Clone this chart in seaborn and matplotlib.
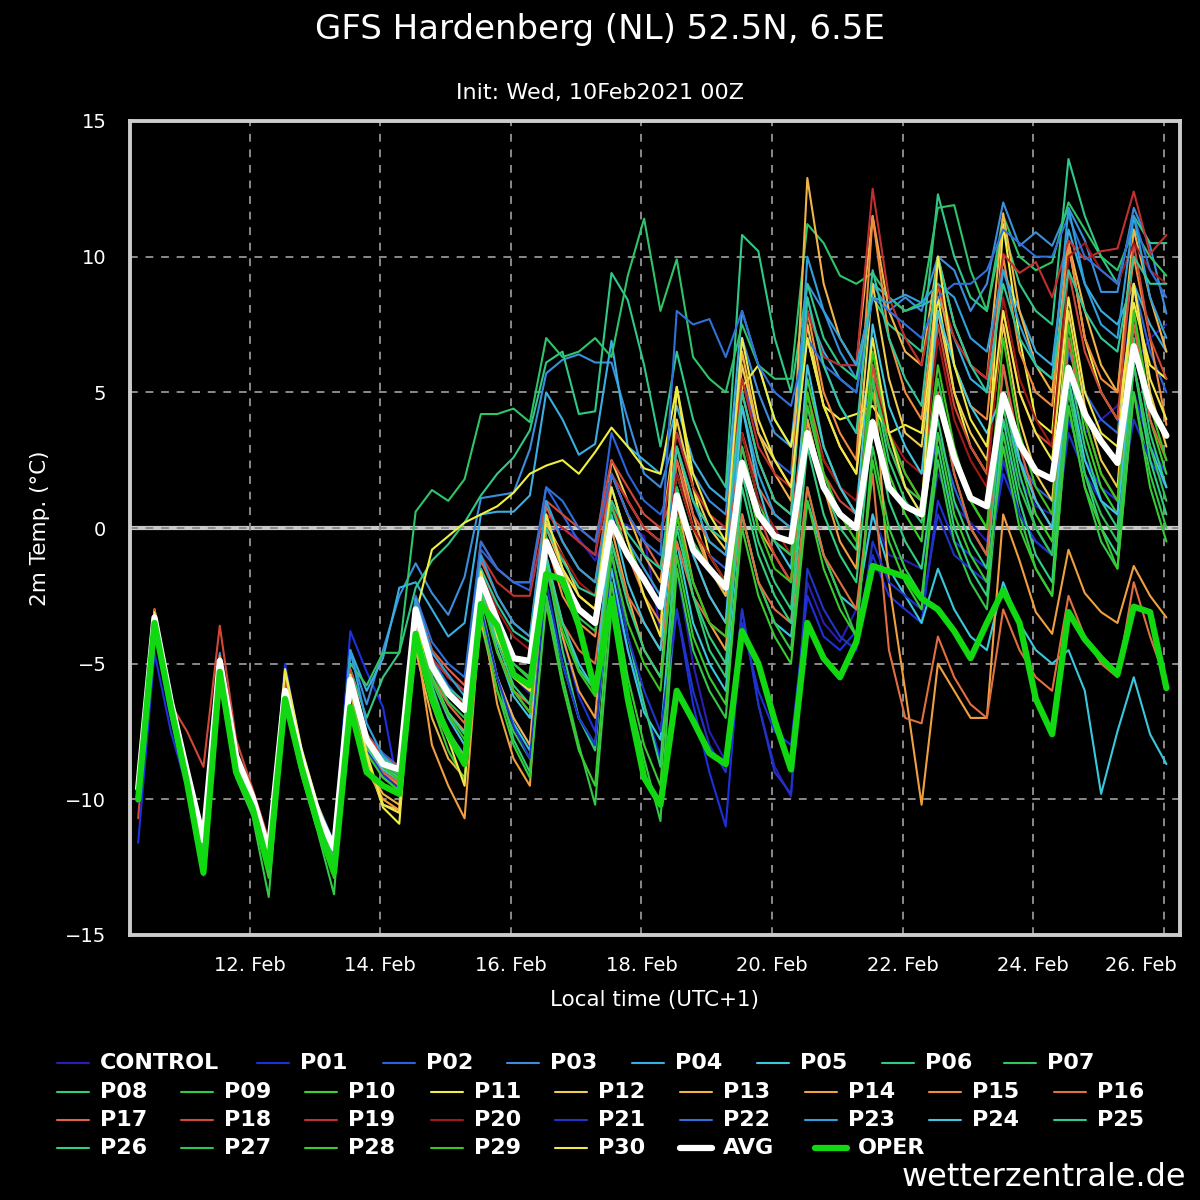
import pandas as pd
import matplotlib
matplotlib.use("Agg")
import matplotlib.pyplot as plt
import matplotlib.dates as mdates
import matplotlib.transforms as mtransforms
from matplotlib.lines import Line2D
import seaborn as sns

# GFS ensemble, 2m temperature (C), Hardenberg (NL), init 10 Feb 2021 00Z
# 6-hourly steps in local time (UTC+1): 10 Feb 07:00 ... 26 Feb 01:00
times = pd.date_range("2021-02-10 07:00", periods=64, freq="6h")

control = [-10.0,-3.6,-6.8,-9.3,-12.0,-5.2,-8.8,-10.2,-12.4,-6.2,-8.8,-10.8,-12.3,-5.7,-8.0,-8.8,-9.2, -3.3,-5.6,-6.9,-7.6, -2.2,-4.0,-5.5,-6.1, -0.2,0.0,-0.4,-1.2, 0.3,0.1,-0.3,-3.8, -1.5,-5.0,-7.5,-8.6, -3.0,-6.5,-8.8,-9.9, -2.0,-3.5,-4.2,-3.0, 0.5,-1.0,-1.2,-1.5, 2.0,0.8,0.2,-0.5, 3.0,1.8,0.8,0.5, 5.0,3.5,4.0,4.5, 6.0,7.0,7.5]
p01 = [-11.6,-4.6,-7.5,-9.6,-12.2,-5.0,-8.2,-9.8,-12.0,-5.0,-8.3,-10.4,-11.8,-3.8,-5.3,-6.6,-9.8, -3.5,-6.0,-7.8,-8.8, -3.0,-5.5,-7.0,-8.0, -1.5,-4.0,-6.2,-7.5, -2.0,-4.5,-6.5,-8.5, -3.0,-6.5,-9.0,-11.0, -3.5,-6.0,-7.5,-8.0, -2.5,-4.0,-4.5,-3.8, -1.0,-2.5,-3.0,-3.5, 1.0,-0.5,-1.0,-1.5, 2.0,0.5,-0.5,-1.0, 4.0,2.5,1.5,1.0, 5.0,3.0,2.0]
p02 = [-9.6,-3.5,-6.5,-9.0,-11.6,-4.9,-8.5,-9.8,-12.0,-5.8,-8.4,-10.3,-11.8,-5.3,-7.6,-8.3,-8.8, -2.6,-4.8,-5.8,-6.5, -0.8,-1.5,-2.0,-2.3, 1.5,0.5,-0.5,-1.0, 3.5,2.0,1.0,0.5, 2.0,0.0,-1.0,-1.5, 5.5,3.5,2.5,2.0, 8.5,6.0,4.5,3.5, 6.0,3.5,1.5,0.5, 3.5,1.5,0.0,-1.0, 4.0,2.5,1.5,1.0, 6.5,5.0,4.0,3.5, 9.0,6.5,5.0]
p03 = [-9.5,-3.2,-6.4,-8.8,-11.4,-4.6,-8.3,-9.7,-11.8,-5.6,-8.2,-10.2,-11.6,-4.6,-6.5,-4.5,-2.5, -1.3,-2.4,-3.2,-1.8, 1.1,1.2,1.3,2.9, 5.7,6.2,6.4,6.1, 6.1,4.0,2.0,1.5, 3.5,2.0,1.0,0.5, 7.0,5.0,3.5,3.0, 9.0,8.0,6.5,5.5, 9.0,8.0,8.5,8.0, 10.0,9.5,8.0,9.0, 12.0,10.4,10.9,10.4, 11.8,10.6,8.7,8.7, 11.8,10.4,7.9]
p04 = [-9.7,-3.4,-6.7,-9.2,-12.0,-5.1,-8.7,-10.1,-12.3,-6.1,-8.7,-10.7,-12.1,-4.5,-6.0,-4.8,-2.2, -2.0,-3.0,-4.0,-3.5, 0.5,0.6,0.6,1.2, 5.0,4.0,2.7,3.1, 6.9,3.0,2.5,2.0, 4.5,2.5,1.5,1.0, 8.0,6.0,4.0,3.0, 8.0,6.5,5.5,5.0, 9.0,8.5,8.0,8.2, 8.5,7.0,5.5,5.0, 9.5,8.0,6.5,6.0, 11.0,9.0,8.0,7.5, 9.0,7.5,6.5]
p05 = [-9.9,-3.6,-6.8,-9.3,-12.2,-5.3,-8.9,-10.3,-12.5,-6.3,-8.9,-10.9,-12.4,-5.8,-8.3,-9.0,-9.4, -3.5,-6.0,-7.5,-8.4, -3.0,-5.5,-7.2,-8.2, -2.5,-5.0,-7.0,-8.0, -1.5,-4.5,-6.8,-7.8, -0.5,-3.5,-5.0,-6.0, 0.5,-2.0,-3.5,-4.0, 1.0,-1.0,-2.5,-3.0, 0.5,-1.5,-2.5,-3.5, -1.5,-3.0,-4.0,-4.5, -2.0,-3.5,-4.5,-5.0, -4.5,-6.0,-9.8,-7.5, -5.5,-7.6,-8.7]
p06 = [-9.6,-3.3,-6.5,-9.0,-11.7,-4.9,-8.5,-9.9,-12.1,-5.9,-8.5,-10.5,-11.9,-5.2,-7.0,-5.5,-4.6, -2.2,-1.2,-0.6,0.2, 1.2,2.0,2.6,3.6, 6.1,6.5,4.2,4.3, 9.4,8.4,6.0,3.0, 6.5,4.0,2.5,1.5, 10.8,10.2,7.0,5.0, 9.0,7.0,6.0,5.5, 8.5,7.5,7.0,6.5, 12.3,10.0,8.5,8.0, 11.0,9.0,8.0,7.5, 13.6,11.5,10.0,9.0, 11.5,10.5,10.5]
p07 = [-9.9,-3.5,-6.7,-9.2,-12.0,-5.1,-8.7,-10.1,-12.3,-6.0,-8.6,-10.6,-12.2,-5.0,-5.8,-4.6,-4.6, 0.6,1.4,1.0,1.8, 4.2,4.2,4.4,3.9, 7.0,6.3,6.5,7.0, 6.3,9.3,11.4,8.0, 9.9,6.3,5.5,5.0, 7.5,6.0,5.5,5.5, 11.2,10.5,9.3,9.0, 9.4,8.5,8.0,8.3, 11.8,11.9,9.5,8.0, 11.5,10.0,9.5,9.8, 12.0,11.0,10.0,9.5, 11.0,10.0,9.3]
p08 = [-9.8,-3.4,-6.6,-9.2,-12.3,-5.0,-8.7,-10.2,-12.8,-6.1,-8.8,-10.9,-12.6,-5.4,-7.8,-8.5,-9.0, -3.3,-5.8,-7.6,-8.6, -2.8,-5.5,-7.8,-9.0, -1.2,-4.5,-7.0,-8.2, -0.8,-4.0,-6.5,-8.8, 0.5,-2.5,-4.5,-5.5, 2.0,-0.5,-2.0,-3.0, 4.0,1.5,0.0,-0.8, 5.5,2.5,1.0,0.2, 4.0,1.0,-0.5,-1.5, 5.0,2.0,0.0,-1.0, 6.0,3.0,1.0,0.0, 7.0,3.5,1.5]
p09 = [-10.1,-3.5,-6.9,-9.6,-12.8,-5.4,-9.2,-10.6,-13.6,-6.4,-9.1,-11.2,-13.5,-5.6,-8.2,-9.2,-9.6, -3.6,-6.2,-7.5,-8.5, -3.5,-6.0,-7.5,-8.5, -2.5,-5.5,-8.0,-10.2, -3.0,-6.0,-8.5,-10.8, -1.5,-4.5,-6.0,-7.0, 0.5,-2.0,-3.5,-4.5, 1.5,-1.0,-2.5,-4.0, 3.0,0.0,-1.5,-2.5, 2.5,-0.5,-2.0,-3.0, 3.5,0.5,-1.5,-2.5, 4.5,1.5,-0.5,-1.5, 5.0,2.0,0.0]
p10 = [-9.7,-3.3,-6.5,-9.0,-11.9,-5.0,-8.6,-10.0,-12.4,-6.1,-8.6,-10.6,-12.2,-5.3,-7.7,-8.4,-8.9, -2.8,-5.0,-6.0,-6.8, -1.5,-3.5,-5.0,-5.5, 0.5,-1.5,-3.0,-3.5, 1.5,-0.5,-2.0,-3.0, 2.0,0.0,-1.5,-2.5, 3.5,1.0,-0.5,-1.0, 5.5,3.0,1.5,0.5, 5.0,2.0,0.5,-0.5, 5.0,2.0,0.0,-1.0, 6.0,2.5,0.5,-0.5, 7.0,3.5,1.5,0.5, 8.0,4.0,2.0]
p11 = [-9.7,-3.0,-6.3,-8.8,-11.5,-4.9,-8.5,-10.0,-12.0,-5.2,-8.1,-10.2,-11.8,-5.6,-8.5,-10.3,-10.9, -3.2,-0.8,-0.3,0.2, 0.5,0.8,1.3,2.0, 2.3,2.5,2.0,2.8, 3.7,3.0,2.2,2.0, 5.2,1.5,-1.0,-2.0, 5.2,6.0,4.0,3.0, 7.0,4.5,4.0,4.2, 4.5,3.5,3.8,3.5, 8.5,5.0,3.0,2.0, 11.2,7.0,4.0,3.5, 10.5,7.0,5.0,4.0, 8.3,6.0,5.5]
p12 = [-9.8,-3.1,-6.5,-9.0,-11.7,-4.8,-8.6,-10.1,-12.2,-5.7,-8.5,-10.5,-12.0,-5.7,-8.6,-10.2,-10.4, -3.6,-6.5,-7.8,-8.4, -2.4,-4.5,-6.0,-6.8, 0.2,-1.0,-2.5,-3.0, 2.5,1.0,0.0,-0.5, 4.0,1.5,0.0,-0.8, 6.0,3.5,2.5,1.5, 7.5,4.5,3.0,2.0, 9.0,5.5,3.5,3.0, 8.0,5.0,3.5,2.5, 7.5,4.0,2.0,1.0, 8.0,4.5,2.5,1.5, 9.0,5.0,3.0]
p13 = [-9.9,-3.2,-6.6,-9.1,-11.9,-5.0,-8.6,-10.1,-12.3,-6.0,-8.7,-10.8,-12.4,-5.9,-8.8,-9.8,-10.2, -4.5,-7.0,-8.5,-9.2, -3.5,-5.5,-7.0,-8.0, 0.0,-1.5,-3.0,-3.5, 2.0,0.5,-1.0,-2.0, 3.0,0.5,-1.5,-2.5, 6.5,3.5,2.0,1.0, 12.9,9.0,7.0,6.0, 11.5,8.0,6.5,6.0, 10.0,7.5,6.0,5.5, 11.6,8.0,6.0,5.0, 10.5,8.0,6.0,5.0, 11.0,8.5,6.5]
p14 = [-10.0,-3.3,-6.8,-9.4,-12.2,-5.2,-8.9,-10.4,-12.6,-6.3,-9.0,-11.0,-12.6,-6.0,-8.9,-10.0,-10.4, -4.0,-8.0,-9.5,-10.7, -3.0,-6.5,-8.5,-9.5, -1.0,-4.0,-6.0,-7.0, 0.0,-2.5,-4.5,-5.5, 1.0,-2.0,-3.5,-4.5, 2.5,0.0,-1.0,-2.0, 4.0,1.5,-0.5,-1.5, 6.0,-2.0,-6.0,-10.2, -5.0,-6.0,-7.0,-7.0, 0.5,-1.2,-3.1,-3.9, -0.8,-2.4,-3.1,-3.5, -1.4,-2.5,-3.3]
p15 = [-9.6,-3.0,-6.4,-8.9,-11.6,-4.7,-8.4,-9.9,-12.0,-5.9,-8.4,-10.4,-11.9,-5.4,-7.9,-9.0,-9.5, -3.0,-5.5,-6.8,-7.5, -2.0,-4.0,-5.5,-6.0, -0.5,-2.5,-3.5,-4.0, 1.0,-1.0,-2.5,-3.5, 2.5,0.0,-1.5,-2.0, 5.0,2.5,1.0,0.5, 8.0,5.0,3.5,2.5, 11.5,7.0,5.0,4.0, 9.0,6.0,4.5,4.0, 10.0,6.5,5.0,4.5, 10.5,7.0,5.5,5.0, 10.0,7.0,3.8]
p16 = [-9.8,-3.2,-6.6,-9.2,-12.0,-5.0,-8.8,-10.3,-12.4,-6.1,-8.8,-10.8,-12.3,-5.6,-8.1,-8.8,-9.3, -3.4,-5.5,-6.5,-7.2, -2.5,-4.5,-6.0,-6.5, -1.5,-3.5,-4.5,-5.0, -0.5,-2.5,-3.5,-4.5, -0.5,-2.5,-3.5,-4.0, 0.5,-2.0,-3.0,-3.5, 1.5,-1.0,-2.0,-3.0, 2.0,-4.5,-7.0,-7.2, -4.0,-5.5,-6.5,-7.0, -3.0,-4.5,-5.5,-6.0, -2.5,-4.0,-5.0,-5.5, -2.0,-4.0,-5.7]
p17 = [-10.0,-3.4,-6.8,-9.3,-12.1,-5.2,-8.8,-10.3,-12.5,-6.2,-8.9,-10.9,-12.5,-5.8,-8.2,-9.0,-9.4, -2.8,-4.5,-5.2,-5.8, -1.2,-2.5,-3.5,-4.0, 0.8,-0.5,-1.5,-2.0, 2.0,0.5,-0.5,-1.5, 2.5,0.5,-0.5,-1.0, 3.5,1.5,0.5,0.0, 5.0,2.5,1.5,0.5, 6.0,3.5,2.0,1.0, 5.0,2.0,0.0,-1.0, 6.0,3.0,1.0,0.0, 7.0,4.0,2.0,1.0, 7.5,4.0,2.5]
p18 = [-10.7,-3.0,-6.5,-7.5,-8.8,-3.6,-7.8,-9.6,-11.5,-5.6,-8.3,-10.3,-11.7,-5.2,-7.6,-8.4,-8.8, -2.5,-4.5,-5.5,-6.0, -0.5,-1.5,-2.0,-2.0, 1.0,0.5,0.0,-0.5, 2.5,1.5,0.5,0.0, 1.5,-1.0,-2.5,-3.5, 3.0,0.5,-1.0,-2.0, 4.5,2.0,1.0,0.5, 6.0,3.0,1.5,1.0, 7.5,4.5,3.0,2.0, 8.0,5.0,3.5,3.0, 9.5,6.5,5.0,4.0, 10.5,7.0,5.5]
p19 = [-9.9,-3.3,-6.7,-9.2,-12.0,-5.1,-8.7,-10.2,-12.3,-6.1,-8.7,-10.7,-12.2,-5.6,-8.0,-8.7,-9.1, -3.0,-4.8,-5.5,-6.0, -1.0,-2.0,-2.5,-2.5, 0.5,0.0,-0.5,-1.0, 2.0,1.0,0.0,-0.5, 3.5,1.5,0.5,0.0, 5.5,3.0,2.0,1.5, 8.0,6.3,6.0,6.0, 12.5,8.5,7.0,6.0, 9.0,7.0,6.0,5.5, 10.1,9.4,9.8,8.5, 10.6,9.9,10.2,10.3, 12.4,10.1,10.8]
p20 = [-9.8,-3.3,-6.6,-9.1,-11.8,-4.9,-8.6,-10.0,-12.2,-6.0,-8.6,-10.6,-12.0,-5.5,-7.9,-8.6,-9.0, -3.1,-5.2,-6.0,-6.5, -1.5,-3.0,-4.0,-4.5, 0.0,-1.0,-2.0,-2.5, 1.0,-0.5,-1.5,-2.5, 2.0,0.0,-1.0,-2.0, 3.5,1.0,0.0,-1.0, 4.5,2.5,1.5,1.0, 5.5,3.5,2.5,2.0, 7.0,4.0,2.5,1.5, 8.5,5.5,4.0,3.0, 10.0,10.5,9.5,9.0, 10.5,9.5,9.0]
p21 = [-10.1,-3.7,-7.0,-9.5,-12.3,-5.3,-8.9,-10.4,-12.6,-6.3,-9.0,-11.0,-12.6,-5.8,-8.2,-9.1,-9.6, -3.7,-6.3,-7.8,-8.8, -3.0,-5.5,-7.3,-8.5, -2.0,-5.0,-7.0,-8.0, -1.0,-4.0,-6.0,-7.5, -3.0,-6.0,-8.0,-9.0, -3.0,-6.5,-9.0,-9.8, -1.5,-3.0,-4.0,-4.5, -0.5,-2.0,-2.5,-3.0, 0.5,-1.0,-1.5,-2.0, 2.5,0.5,-0.5,-1.0, 3.5,2.0,1.0,0.5, 4.0,2.5,1.5]
p22 = [-9.7,-3.4,-6.6,-9.1,-11.8,-5.0,-8.6,-10.0,-12.2,-5.9,-8.5,-10.5,-11.9,-5.4,-7.8,-8.5,-8.9, -2.5,-4.2,-5.0,-5.5, -0.5,-1.5,-2.0,-2.0, 1.5,1.0,0.0,-0.5, 2.0,0.5,-0.5,-1.0, 8.0,7.5,7.7,6.3, 8.0,6.0,5.0,4.5, 7.0,6.0,5.5,5.0, 8.5,8.0,7.5,7.0, 8.5,9.0,9.0,9.5, 11.0,10.5,10.0,10.0, 11.5,10.0,9.5,9.0, 11.5,9.5,8.5]
p23 = [-9.8,-3.5,-6.7,-9.2,-12.1,-5.1,-8.8,-10.2,-12.4,-6.0,-8.6,-10.6,-12.0,-4.5,-7.2,-8.4,-8.9, -2.6,-4.6,-5.4,-6.2, -1.0,-2.5,-3.5,-4.0, 1.0,-0.5,-1.5,-2.0, 1.5,-0.5,-1.5,-2.5, 3.0,1.0,-0.5,-1.0, 4.5,2.0,0.5,0.0, 10.0,8.0,7.0,6.0, 8.5,8.3,8.6,8.3, 9.0,8.5,7.0,6.5, 9.5,7.5,6.0,5.5, 11.8,9.0,7.5,7.0, 11.5,8.5,7.0]
p24 = [-9.9,-3.5,-6.8,-9.3,-12.3,-5.3,-8.9,-10.3,-12.6,-6.2,-8.8,-10.8,-12.3,-5.7,-8.1,-8.9,-9.3, -3.4,-5.6,-7.0,-8.0, -2.2,-4.5,-6.2,-7.0, -1.0,-3.5,-5.0,-6.0, 0.5,-2.0,-3.5,-4.5, 1.5,-1.0,-2.5,-3.5, 4.5,1.5,-0.5,-1.5, 6.0,3.0,1.5,0.5, 7.5,4.5,3.0,2.0, 8.0,6.0,4.5,3.5, 5.0,2.5,1.0,0.0, 5.5,2.5,1.0,0.5, 6.0,3.0,1.5]
p25 = [-9.7,-3.4,-6.6,-9.1,-11.9,-5.0,-8.7,-10.1,-12.3,-6.0,-8.6,-10.6,-12.1,-5.4,-7.8,-8.5,-8.9, -2.9,-4.9,-5.9,-6.4, -1.5,-2.8,-3.8,-4.2, 0.0,-1.2,-2.2,-2.5, 1.0,-0.2,-1.0,-1.5, 3.0,1.0,0.0,-0.5, 5.0,2.5,1.0,0.5, 8.5,6.0,4.5,3.5, 9.5,7.0,5.5,4.5, 10.0,7.5,6.0,5.0, 9.0,7.0,6.0,5.5, 9.5,8.0,7.0,6.5, 10.0,9.0,9.0]
p26 = [-9.9,-3.6,-6.8,-9.3,-12.1,-5.2,-8.8,-10.2,-12.4,-6.2,-8.8,-10.8,-12.3,-5.7,-8.1,-8.8,-9.2, -3.3,-5.5,-6.8,-7.6, -2.3,-4.2,-5.8,-6.5, -1.2,-3.5,-5.2,-6.0, -0.5,-2.8,-4.5,-5.5, 0.0,-2.5,-4.0,-5.0, 1.5,-1.0,-2.5,-3.5, 3.0,0.5,-1.0,-2.0, 4.0,1.0,-0.5,-1.5, 3.0,0.0,-1.5,-2.5, 4.0,1.0,-1.0,-2.0, 5.5,2.0,0.0,-1.0, 6.0,2.5,0.5]
p27 = [-9.8,-3.4,-6.7,-9.2,-12.0,-5.0,-8.7,-10.1,-12.3,-6.1,-8.7,-10.7,-12.2,-5.6,-7.9,-8.7,-9.1, -3.1,-5.3,-6.4,-7.0, -1.8,-3.7,-5.0,-5.6, -0.3,-2.2,-3.3,-3.8, 0.8,-1.0,-2.0,-3.0, 1.5,-0.5,-1.5,-2.0, 3.0,0.5,-0.5,-1.0, 4.5,2.0,0.5,0.0, 5.5,3.0,1.5,1.0, 5.5,2.5,1.0,0.0, 4.5,1.5,0.0,-1.0, 5.0,2.0,0.5,-0.5, 6.0,3.0,1.0]
p28 = [-10.0,-3.5,-6.9,-9.5,-12.5,-5.3,-9.0,-10.5,-12.9,-6.4,-9.0,-11.1,-12.9,-5.9,-8.3,-9.2,-9.7, -3.8,-6.5,-8.2,-9.3, -3.2,-6.0,-8.0,-9.2, -2.8,-5.8,-8.2,-9.5, -2.0,-5.5,-8.0,-9.5, -1.0,-4.0,-5.5,-6.5, 0.0,-2.5,-4.0,-5.0, 1.0,-1.5,-3.0,-4.0, 2.5,-0.5,-2.0,-3.0, 3.5,0.5,-1.0,-2.0, 3.0,0.0,-1.5,-2.5, 4.5,1.5,0.0,-1.5, 5.0,1.5,-0.5]
p29 = [-9.9,-3.4,-6.8,-9.3,-12.2,-5.1,-8.8,-10.2,-12.5,-6.2,-8.8,-10.8,-12.4,-5.7,-8.0,-8.8,-9.3, -3.3,-5.6,-6.9,-7.8, -2.5,-4.6,-6.0,-6.8, -1.5,-3.8,-5.3,-6.2, -1.0,-3.5,-5.0,-6.0, 0.5,-2.0,-3.5,-4.0, 2.5,0.0,-1.5,-2.0, 5.0,2.0,0.5,-0.5, 6.5,3.5,2.0,1.0, 6.0,3.0,1.0,0.0, 7.0,3.5,1.5,0.5, 7.5,4.0,2.0,1.0, 8.0,4.5,2.5]
p30 = [-9.6,-3.1,-6.4,-8.9,-11.6,-4.8,-8.4,-9.9,-12.0,-5.3,-8.2,-10.3,-11.9,-5.4,-8.3,-10.2,-10.5, -3.3,-6.3,-7.8,-9.5, -1.6,-4.0,-5.5,-6.0, 0.5,-1.5,-2.5,-3.0, 1.5,-0.5,-2.5,-4.0, 5.2,2.0,0.5,-0.5, 7.0,4.0,2.5,1.5, 7.0,4.5,3.0,2.0, 7.0,3.5,1.5,0.5, 10.0,6.0,4.0,3.0, 8.0,5.0,3.5,2.5, 8.5,5.0,3.5,3.0, 9.0,5.5,4.0]

avg = [-9.6,-3.3,-6.4,-9.0,-11.5,-4.9,-8.4,-9.9,-11.9,-6.0,-8.5,-10.5,-11.8,-5.6,-7.8,-8.7,-8.9, -3.0,-5.1,-6.1,-6.7, -1.9,-3.4,-4.8,-4.9, -0.5,-1.9,-3.0,-3.5, 0.2,-1.0,-1.9,-2.9, 1.2,-0.8,-1.5,-2.2, 2.4,0.5,-0.3,-0.5, 3.5,1.5,0.5,0.0, 3.9,1.5,0.8,0.5, 4.8,2.6,1.1,0.8, 4.9,3.1,2.1,1.8, 5.9,4.2,3.2,2.4, 6.7,4.5,3.4]
oper = [-10.0,-3.5,-6.6,-9.4,-12.7,-5.3,-9.0,-10.3,-12.5,-6.3,-8.8,-10.9,-12.7,-6.6,-9.0,-9.5,-9.8, -3.9,-6.3,-7.6,-8.7, -2.8,-3.6,-5.4,-5.8, -1.7,-1.9,-3.6,-6.0, -2.6,-6.3,-9.2,-10.2, -6.0,-7.1,-8.3,-8.7, -3.8,-5.0,-7.1,-8.9, -3.5,-4.8,-5.5,-4.2, -1.4,-1.6,-1.8,-2.6, -3.0,-3.8,-4.8,-3.5, -2.3,-3.5,-6.3,-7.6, -3.1,-4.1,-4.8,-5.4, -2.9,-3.1,-5.9]

member_names = ["CONTROL"] + ["P%02d" % k for k in range(1, 31)]
member_values = [control, p01, p02, p03, p04, p05, p06, p07, p08, p09, p10,
                 p11, p12, p13, p14, p15, p16, p17, p18, p19, p20,
                 p21, p22, p23, p24, p25, p26, p27, p28, p29, p30]
member_colors = ["#2a1cb4", "#1e30dc", "#2c62dc", "#3a8edc", "#3aaee0", "#3ac8dc",
                 "#30c888", "#30c468", "#30cc78", "#34c848", "#3cd030",
                 "#f0f040", "#f0cc50", "#f0b448", "#f0a040", "#f08c40", "#e07040",
                 "#e06048", "#d04838", "#c03030", "#a01818",
                 "#2034c8", "#3070d8", "#30a0dc", "#40c4e0", "#30c898",
                 "#30d080", "#30c454", "#38cc30", "#3cc420", "#f0e848"]
oper_color = "#12d812"

frames = []
for name, vals in zip(member_names, member_values):
    frames.append(pd.DataFrame({"time": times, "temp": vals, "member": name}))
df = pd.concat(frames, ignore_index=True)

sns.set_style("dark", {"axes.facecolor": "black", "figure.facecolor": "black"})
plt.rcParams["font.family"] = ["DejaVu Sans"]

fig = plt.figure(figsize=(12, 12), dpi=100)
fig.patch.set_facecolor("black")
ax = fig.add_axes([130 / 1200, 1 - 935 / 1200, 1050 / 1200, 814 / 1200])
ax.set_facecolor("black")

# members
sns.lineplot(data=df, x="time", y="temp", hue="member", hue_order=member_names,
             palette=dict(zip(member_names, member_colors)), estimator=None,
             linewidth=1.5, legend=False, ax=ax)
# ensemble mean and operational run
sns.lineplot(x=times, y=avg, color="white", linewidth=4.5, ax=ax)
sns.lineplot(x=times, y=oper, color=oper_color, linewidth=4.5, ax=ax)

ax.set_xlim(pd.Timestamp("2021-02-10 04:00"), pd.Timestamp("2021-02-26 06:00"))
ax.set_ylim(-15, 15)
ax.set_yticks([-15, -10, -5, 0, 5, 10, 15])
ax.xaxis.set_major_locator(mdates.DayLocator(bymonthday=range(12, 27, 2)))
ax.xaxis.set_major_formatter(mdates.DateFormatter("%d. %b"))

ax.axhline(0, color="#c8c8c8", linewidth=3, zorder=0.4)
ax.set_axisbelow(True)
ax.grid(True, color="#8a8a8a", linestyle=(0, (4, 4)), linewidth=1.4)

for s in ax.spines.values():
    s.set_visible(True)
    s.set_color("#cccccc")
    s.set_linewidth(2.8)
ax.tick_params(axis="both", colors="#c8c8c8", labelcolor="white", labelsize=14,
               length=5, width=1.2, direction="out")
ax.tick_params(axis="y", pad=12)
ax.tick_params(axis="x", pad=10)
ax.set_xlabel("")
ax.set_ylabel("")

# last date label is pulled left so it stays inside the figure
fig.canvas.draw()
last = ax.get_xticklabels()[-1]
last.set_transform(last.get_transform() +
                   mtransforms.ScaledTranslation(-0.23, 0, fig.dpi_scale_trans))

fig.text(0.5, 1 - 30 / 1200, "GFS Hardenberg (NL) 52.5N, 6.5E", color="white",
         fontsize=24.5, ha="center", va="center")
fig.text(0.5, 1 - 93 / 1200, "Init: Wed, 10Feb2021 00Z", color="white",
         fontsize=16, ha="center", va="center")
fig.text(655 / 1200, 1 - 1000 / 1200, "Local time (UTC+1)", color="white",
         fontsize=15.5, ha="center", va="center")
fig.text(40 / 1200, 1 - 528 / 1200, "2m Temp. (°C)", color="white",
         fontsize=15.5, ha="center", va="center", rotation=90)
fig.text(1186 / 1200, 1 - 1178 / 1200, "wetterzentrale.de", color="white",
         fontsize=23, ha="right", va="center")

# legend, laid out in rows like the original
legend_rows = [
    (["CONTROL"] + member_names[1:8], [100, 300, 426, 550, 675, 800, 925, 1047]),
    (member_names[8:17], [100, 224, 348, 474, 598, 723, 848, 972, 1097]),
    (member_names[17:26], [100, 224, 348, 474, 598, 723, 848, 972, 1097]),
    (member_names[26:31] + ["AVG", "OPER"], [100, 224, 348, 474, 598, 723, 858]),
]
legend_y = [1063, 1092, 1120, 1148]
color_of = dict(zip(member_names, member_colors))
color_of["AVG"] = "white"
color_of["OPER"] = oper_color
for (labels, xs), ypx in zip(legend_rows, legend_y):
    for lab, tx in zip(labels, xs):
        lw = 4.5 if lab in ("AVG", "OPER") else 1.5
        y = 1 - ypx / 1200
        fig.add_artist(Line2D([(tx - 43) / 1200, (tx - 11) / 1200], [y, y],
                              color=color_of[lab], linewidth=lw,
                              transform=fig.transFigure))
        fig.text(tx / 1200, y, lab, color="white", fontsize=16, fontweight="bold",
                 ha="left", va="center")

fig.savefig("out.png", dpi=100, facecolor="black")
